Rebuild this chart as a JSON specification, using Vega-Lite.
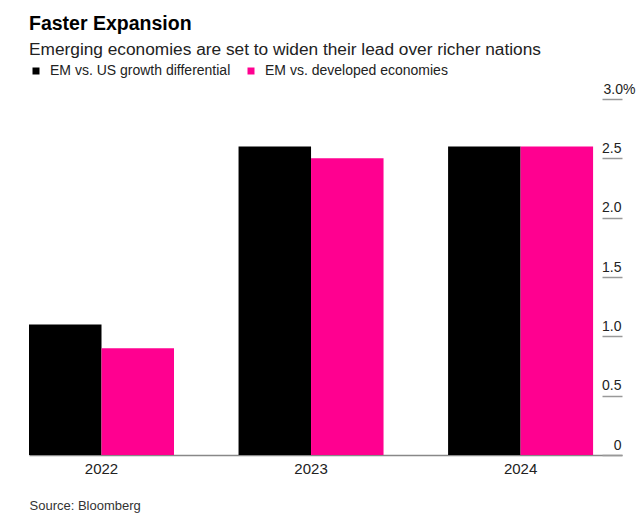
{
  "$schema": "https://vega.github.io/schema/vega-lite/v6.json",
  "autosize": "none",
  "width": 593,
  "height": 356,
  "padding": {"left": 29, "top": 99, "right": 18, "bottom": 58},
  "background": "white",
  "config": {
    "font": "Liberation Sans",
    "view": {"stroke": null}
  },
  "title": {
    "text": "Faster Expansion",
    "subtitle": "Emerging economies are set to widen their lead over richer nations",
    "anchor": "start",
    "frame": "group",
    "fontSize": 19.5,
    "fontWeight": "bold",
    "color": "#000000",
    "subtitleFontSize": 17.3,
    "subtitleColor": "#222222",
    "subtitlePadding": 6,
    "offset": 5
  },
  "data": {
    "values": [
      {"year": "2022", "series": "EM vs. US growth differential", "value": 1.1},
      {"year": "2022", "series": "EM vs. developed economies", "value": 0.9},
      {"year": "2023", "series": "EM vs. US growth differential", "value": 2.6},
      {"year": "2023", "series": "EM vs. developed economies", "value": 2.5},
      {"year": "2024", "series": "EM vs. US growth differential", "value": 2.6},
      {"year": "2024", "series": "EM vs. developed economies", "value": 2.6}
    ]
  },
  "mark": {"type": "bar"},
  "encoding": {
    "x": {
      "field": "year",
      "type": "nominal",
      "scale": {"paddingInner": 0.308, "paddingOuter": 0.069, "align": 0},
      "axis": {
        "title": "Source: Bloomberg",
        "titleFontSize": 13,
        "titleFontWeight": "normal",
        "titleColor": "#333333",
        "titleAnchor": "start",
        "titleAlign": "left",
        "titleBaseline": "alphabetic",
        "titleX": 0,
        "titleY": 54,
        "labelAngle": 0,
        "labelFontSize": 15,
        "labelColor": "#222222",
        "labelPadding": 6,
        "ticks": false,
        "domainColor": "#888888",
        "domainWidth": 1.5
      }
    },
    "xOffset": {
      "field": "series",
      "type": "nominal",
      "sort": ["EM vs. US growth differential", "EM vs. developed economies"],
      "scale": {"paddingInner": 0, "paddingOuter": 0}
    },
    "y": {
      "field": "value",
      "type": "quantitative",
      "scale": {"domain": [0, 3], "nice": false},
      "axis": {
        "orient": "right",
        "title": null,
        "offset": -20,
        "values": [0, 0.5, 1, 1.5, 2, 2.5, 3],
        "labelExpr": "datum.value == 3 ? '3.0%' : datum.value == 0 ? '0' : format(datum.value, '.1f')",
        "tickSize": 20,
        "tickColor": "#999999",
        "tickWidth": 1.5,
        "domain": false,
        "grid": false,
        "labelAlign": "right",
        "labelBaseline": "alphabetic",
        "labelOffset": -6,
        "labelPadding": {"condition": {"test": "datum.value == 3", "value": 13}, "value": -1},
        "labelFontSize": 14,
        "labelColor": "#222222",
        "labelFlush": false,
        "labelOverlap": false
      }
    },
    "color": {
      "field": "series",
      "type": "nominal",
      "sort": ["EM vs. US growth differential", "EM vs. developed economies"],
      "scale": {
        "domain": ["EM vs. US growth differential", "EM vs. developed economies"],
        "range": ["#000000", "#ff0090"]
      },
      "legend": {
        "title": null,
        "orient": "none",
        "direction": "horizontal",
        "legendX": 0,
        "legendY": -35,
        "symbolType": "square",
        "symbolSize": 49,
        "symbolStrokeWidth": 0,
        "labelFontSize": 14,
        "labelColor": "#222222",
        "labelOffset": 7,
        "labelLimit": 0,
        "columnPadding": 13
      }
    }
  }
}
